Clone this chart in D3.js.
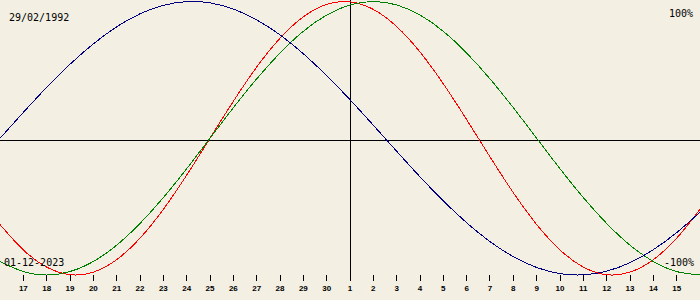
<!DOCTYPE html>
<html>
<head>
<meta charset="utf-8">
<script src="https://cdn.jsdelivr.net/npm/d3@7"></script>
<style>
  html, body { margin: 0; padding: 0; background: #f3efe3; }
  svg { display: block; }
</style>
</head>
<body>
<svg id="chart" width="700" height="300"></svg>
<script>
// Day labels, Nov 16 .. Dec 16 (index 0..30); first and last are not labelled
const dayLabels = ["16","17","18","19","20","21","22","23","24","25","26","27","28","29","30",
                   "1","2","3","4","5","6","7","8","9","10","11","12","13","14","15","16"];
const birthDate = "29/02/1992";
const targetDate = "01-12-2023";
const topLabel = "100%";
const bottomLabel = "-100%";

// Physical (23-day), red
const physical = [-0.631,-0.817,-0.942,-0.998,-0.979,-0.888,-0.731,-0.520,-0.270,0.000,
                  0.270,0.520,0.731,0.888,0.979,0.998,0.942,0.817,0.631,0.398,
                  0.136,-0.136,-0.398,-0.631,-0.817,-0.942,-0.998,-0.979,-0.888,-0.731,-0.520];
// Emotional (28-day), green
const emotional = [-0.901,-0.975,-1.000,-0.975,-0.901,-0.782,-0.623,-0.434,-0.223,0.000,
                   0.223,0.434,0.623,0.782,0.901,0.975,1.000,0.975,0.901,0.782,
                   0.623,0.434,0.223,0.000,-0.223,-0.434,-0.623,-0.782,-0.901,-0.975,-1.000];
// Intellectual (33-day), blue
const intellectual = [0.000,0.189,0.372,0.541,0.690,0.815,0.910,0.972,0.999,0.990,
                      0.945,0.866,0.756,0.618,0.458,0.282,0.095,-0.095,-0.282,-0.458,
                      -0.618,-0.756,-0.866,-0.945,-0.990,-0.999,-0.972,-0.910,-0.815,-0.690,-0.541];

const series = [
  { name: "Physical", values: physical, color: "#ff0000" },
  { name: "Emotional", values: emotional, color: "#008000" },
  { name: "Intellectual", values: intellectual, color: "#000080" }
];

const W = 700, H = 300;
const todayIndex = 15;
const svg = d3.select("#chart");

const x = d3.scaleLinear().domain([0, dayLabels.length - 1]).range([0, W]);
const y = d3.scaleLinear().domain([-1, 1]).range([275, 1.5]);

const axisY = 140.5;

// horizontal zero line
svg.append("line")
  .attr("x1", 0).attr("x2", W)
  .attr("y1", axisY).attr("y2", axisY)
  .attr("stroke", "#000").attr("stroke-width", 1)
  .attr("shape-rendering", "crispEdges");

// vertical "today" line
svg.append("line")
  .attr("x1", Math.floor(x(todayIndex)) + 0.5).attr("x2", Math.floor(x(todayIndex)) + 0.5)
  .attr("y1", 0).attr("y2", 281)
  .attr("stroke", "#000").attr("stroke-width", 1)
  .attr("shape-rendering", "crispEdges");

// curves
const line = d3.line()
  .x((d, i) => x(i))
  .y(d => y(d))
  .curve(d3.curveNatural);

svg.selectAll("path.bio")
  .data(series)
  .join("path")
  .attr("class", "bio")
  .attr("d", d => line(d.values))
  .attr("fill", "none")
  .attr("stroke", d => d.color)
  .attr("stroke-width", 1)
  .attr("shape-rendering", "crispEdges");

// ticks + labels
const idx = d3.range(1, dayLabels.length - 1);
svg.selectAll("line.tick")
  .data(idx.filter(i => i !== todayIndex))
  .join("line")
  .attr("class", "tick")
  .attr("x1", i => Math.floor(x(i)) + 0.5)
  .attr("x2", i => Math.floor(x(i)) + 0.5)
  .attr("y1", 275).attr("y2", 281)
  .attr("stroke", "#000")
  .attr("shape-rendering", "crispEdges");

svg.selectAll("text.day")
  .data(idx)
  .join("text")
  .attr("class", "day")
  .attr("x", i => x(i))
  .attr("y", 291)
  .attr("text-anchor", "middle")
  .attr("font-family", "'Liberation Sans', Arial, sans-serif")
  .attr("font-size", 8)
  .attr("font-weight", "bold")
  .attr("fill", "#000")
  .text(i => dayLabels[i]);

const mono = "'DejaVu Sans Mono', monospace";
svg.append("text").attr("x", 9).attr("y", 21)
  .attr("font-family", mono).attr("font-size", 10).attr("fill", "#000").text(birthDate);
svg.append("text").attr("x", 4).attr("y", 266)
  .attr("font-family", mono).attr("font-size", 10).attr("fill", "#000").text(targetDate);
svg.append("text").attr("x", 693).attr("y", 17).attr("text-anchor", "end")
  .attr("font-family", mono).attr("font-size", 10).attr("fill", "#000").text(topLabel);
svg.append("text").attr("x", 694).attr("y", 266).attr("text-anchor", "end")
  .attr("font-family", mono).attr("font-size", 10).attr("fill", "#000").text(bottomLabel);
</script>
</body>
</html>
